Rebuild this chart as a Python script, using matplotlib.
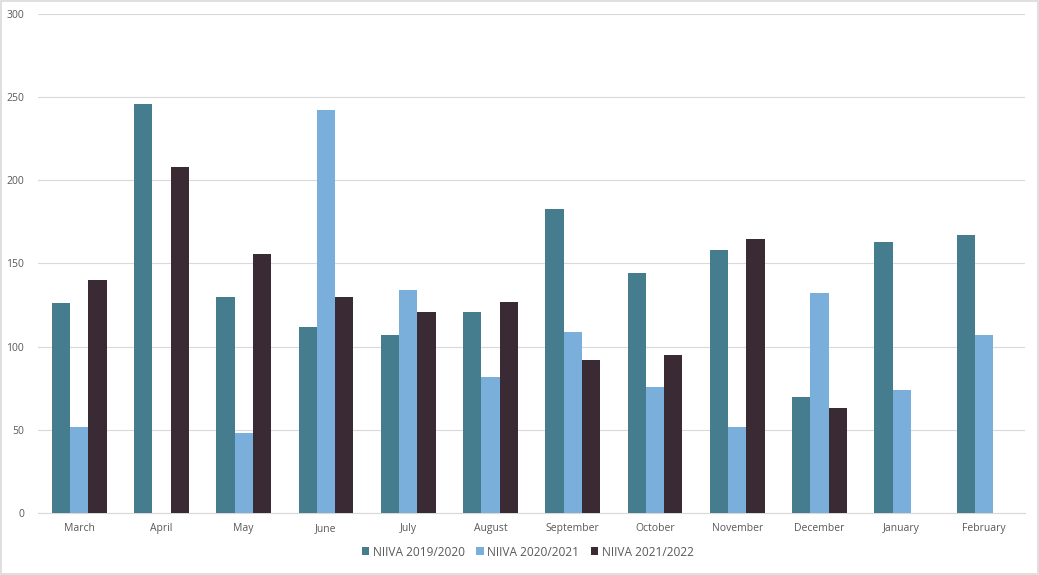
import matplotlib
matplotlib.use("Agg")
import matplotlib.pyplot as plt
import numpy as np
from matplotlib.patches import Rectangle

months = ["March", "April", "May", "June", "July", "August", "September",
          "October", "November", "December", "January", "February"]
series_names = ["NIIVA 2019/2020", "NIIVA 2020/2021", "NIIVA 2021/2022"]
niiva_2019 = [126, 246, 130, 112, 107, 121, 183, 144, 158, 70, 163, 167]
niiva_2020 = [52, 0, 48, 242, 134, 82, 109, 76, 52, 132, 74, 107]
niiva_2021 = [140, 208, 156, 130, 121, 127, 92, 95, 165, 63, 0, 0]
colors = ["#467D8E", "#7AAFDB", "#3A2A33"]
yticks = [0, 50, 100, 150, 200, 250, 300]

plt.rcParams['font.family'] = ['Open Sans', 'DejaVu Sans']
fig = plt.figure(figsize=(10.39, 5.75), dpi=100)
ax = fig.add_axes([0.0366, 0.1078, 0.95, 0.8679])

x = np.arange(len(months))
w = 0.222
for i, (vals, name) in enumerate(zip([niiva_2019, niiva_2020, niiva_2021], series_names)):
    ax.bar(x + (i - 1) * w, vals, width=w, color=colors[i], label=name, zorder=3)

ax.set_xlim(-0.5, len(months) - 0.5)
ax.set_ylim(0, 300)
ax.set_yticks(yticks)
ax.set_xticks(x)
ax.set_xticklabels(months)
ax.grid(axis='y', color='#D9D9D9', linewidth=0.8, zorder=0)
for s in ['left', 'right', 'top']:
    ax.spines[s].set_visible(False)
ax.spines['bottom'].set_color('#D9D9D9')
ax.spines['bottom'].set_linewidth(0.8)
ax.tick_params(axis='both', length=0, labelsize=7.5, colors='#595959')
ax.tick_params(axis='x', pad=7)
ax.tick_params(axis='y', pad=10)

leg = fig.legend(loc='center', bbox_to_anchor=(0.508, 0.04), ncol=3, frameon=False,
                 fontsize=8.6, handlelength=0.6, handleheight=0.6, columnspacing=1.0,
                 handletextpad=0.3)
for t in leg.get_texts():
    t.set_color('#595959')

fig.patches.append(Rectangle((0.0005, 0.001), 0.999, 0.998, transform=fig.transFigure,
                             fill=False, edgecolor='#D9D9D9', linewidth=1.2))
fig.savefig("out.png", dpi=100)
